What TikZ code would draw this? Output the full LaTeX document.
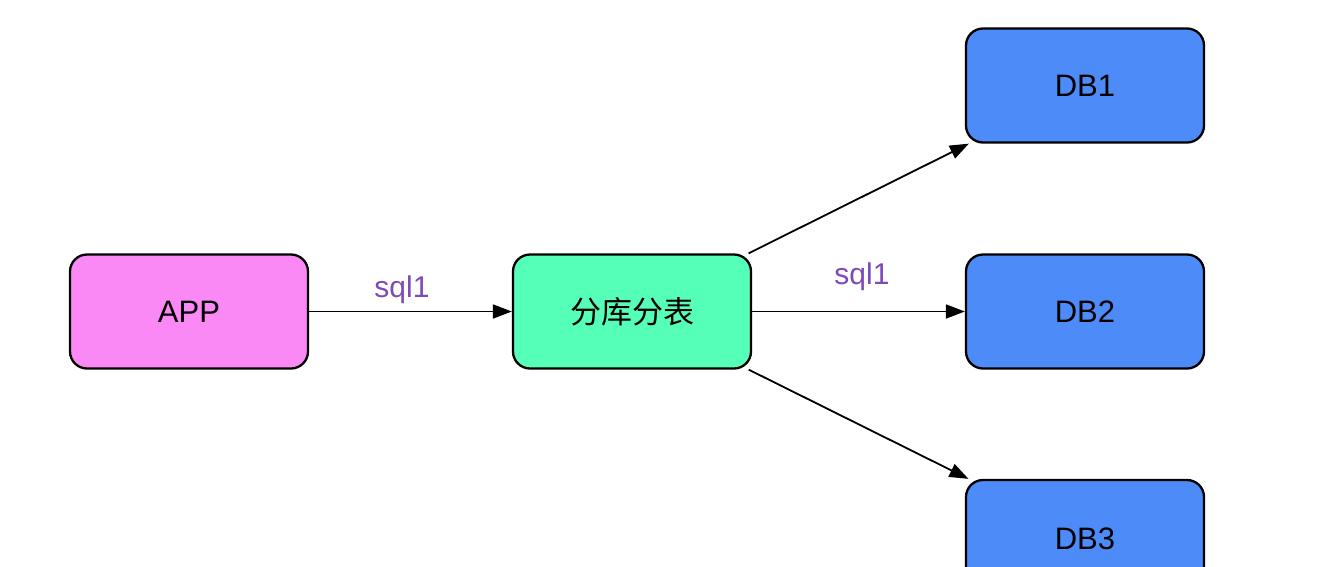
\documentclass[tikz,border=0pt]{standalone}
\usepackage{fontspec}
\setmainfont{Liberation Sans}
\newfontfamily\cjk{Noto Sans CJK SC}
\usetikzlibrary{arrows.meta}
\definecolor{apppink}{RGB}{250,136,245}
\definecolor{midgreen}{RGB}{85,255,183}
\definecolor{dbblue}{RGB}{76,139,248}
\definecolor{lblpurple}{RGB}{125,75,185}
\begin{document}
\begin{tikzpicture}[x=1pt,y=-1pt,
  box/.style={draw=black, line width=2.3pt, rounded corners=17pt, minimum width=238pt, minimum height=114pt, inner sep=0pt, font=\fontsize{31}{36}\selectfont},
  conn/.style={line width=1.8pt, -{Triangle[length=19pt,width=14pt]}},
  lbl/.style={text=lblpurple, font=\fontsize{30}{34}\selectfont, anchor=base, inner sep=0pt}]
\useasboundingbox (0,0) rectangle (1322,566);
\begin{scope}
\clip (0,0) rectangle (1322,566);
\node[box, fill=apppink] (app) at (189,311.5) {APP};
\node[box, fill=midgreen] (mid) at (632,311.5) {\cjk 分库分表};
\node[box, fill=dbblue] (db1) at (1085,85.5) {DB1};
\node[box, fill=dbblue] (db2) at (1085,311.5) {DB2};
\node[box, fill=dbblue] (db3) at (1085,537) {};
\node[font=\fontsize{31}{36}\selectfont, inner sep=0pt] (db3t) at (1085,539) {DB3};
\end{scope}
\draw[conn] (app) -- (mid);
\draw[conn] (mid) -- (db1);
\draw[conn] (mid) -- (db2);
\draw[conn] (mid) -- (db3);
\node[lbl] (l1) at (402,297) {sql1};
\node[lbl] (l2) at (862,284) {sql1};
\end{tikzpicture}
\end{document}
